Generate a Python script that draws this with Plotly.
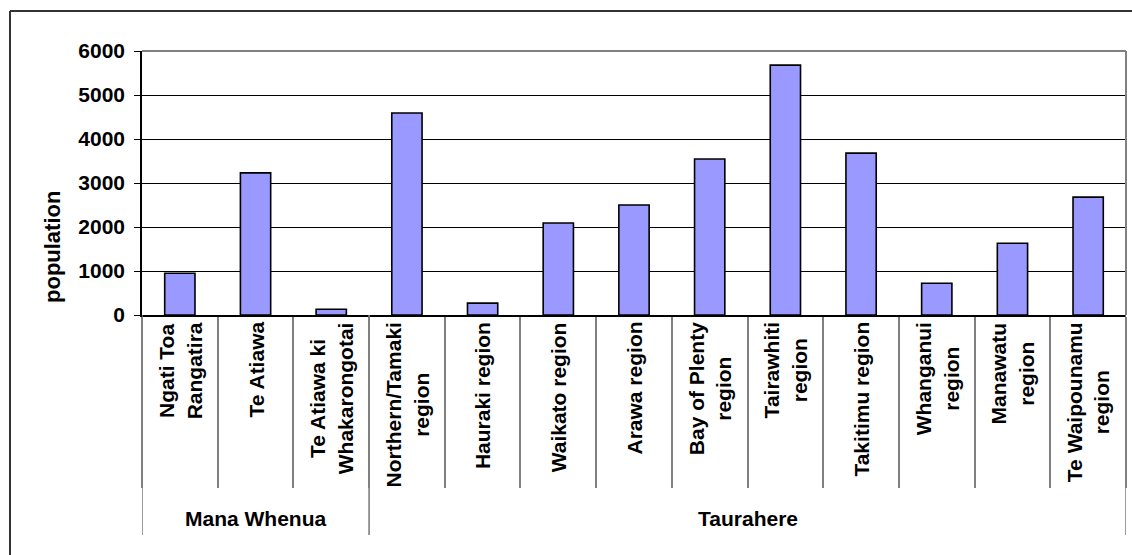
import plotly.graph_objects as go

# Population by iwi / region, grouped into Mana Whenua and Taurahere
categories = [
    "Ngati Toa Rangatira", "Te Atiawa", "Te Atiawa ki Whakarongotai",
    "Northern/Tamaki region", "Hauraki region", "Waikato region",
    "Arawa region", "Bay of Plenty region", "Tairawhiti region",
    "Takitimu region", "Whanganui region", "Manawatu region",
    "Te Waipounamu region",
]
tick_labels = [
    "Ngati Toa<br>Rangatira", "Te Atiawa", "Te Atiawa ki<br>Whakarongotai",
    "Northern/Tamaki<br>region", "Hauraki region", "Waikato region",
    "Arawa region", "Bay of Plenty<br>region", "Tairawhiti<br>region",
    "Takitimu region", "Whanganui<br>region", "Manawatu<br>region",
    "Te Waipounamu<br>region",
]
population = [950, 3230, 130, 4590, 270, 2090, 2500, 3545, 5680, 3680, 720, 1630, 2680]

groups = ["Mana Whenua", "Taurahere"]
group_spans = [(0, 2), (3, 12)]  # first and last category index of each group

y_ticks = [0, 1000, 2000, 3000, 4000, 5000, 6000]

FONT = "Arial, Liberation Sans, sans-serif"
W, H = 1132, 555
L, R, T, B = 142, 6, 51, 240
plot_w = W - L - R
plot_h = H - T - B


def px_to_paper_x(px):
    return (px - L) / plot_w


def px_to_paper_y(py):
    return (H - B - py) / plot_h


fig = go.Figure(
    go.Bar(
        x=list(range(len(categories))),
        y=population,
        marker=dict(color="#9999FF", line=dict(color="black", width=1.6)),
        hovertext=categories,
    )
)

shapes = []
annotations = []

# category labels, rotated and hanging below the axis
for i, lab in enumerate(tick_labels):
    annotations.append(dict(
        x=i, xref="x", y=px_to_paper_y(320), yref="paper",
        text=lab, textangle=-90, showarrow=False,
        xanchor="center", yanchor="top", align="center",
        font=dict(family=FONT, size=21, color="black", weight="bold"),
    ))

# group labels and group dividers
for name, (a, b) in zip(groups, group_spans):
    annotations.append(dict(
        x=(a + b) / 2, xref="x", y=px_to_paper_y(518), yref="paper",
        text=name, showarrow=False, xanchor="center", yanchor="middle",
        font=dict(family=FONT, size=21, color="black", weight="bold"),
    ))
for xb in [-0.5] + [b + 0.5 for _, b in group_spans]:
    shapes.append(dict(
        type="line", xref="x", yref="paper", x0=xb, x1=xb,
        y0=0, y1=px_to_paper_y(535),
        line=dict(color="#808080", width=1.6),
    ))

# y axis title
annotations.append(dict(
    x=px_to_paper_x(52), xref="paper", y=px_to_paper_y(247), yref="paper",
    text="population", textangle=-90, showarrow=False,
    xanchor="center", yanchor="middle",
    font=dict(family=FONT, size=22, color="black", weight="bold"),
))

# plot-area border on top and right
shapes.append(dict(type="line", xref="paper", yref="paper", x0=0, x1=1, y0=1, y1=1,
                   line=dict(color="#808080", width=2), layer="above"))
shapes.append(dict(type="line", xref="paper", yref="paper", x0=1, x1=1, y0=0, y1=1,
                   line=dict(color="#808080", width=2), layer="above"))

# outer chart frame
fx0 = px_to_paper_x(10)
fy1 = px_to_paper_y(11)
shapes.append(dict(type="line", xref="paper", yref="paper", x0=fx0, x1=px_to_paper_x(1140),
                   y0=fy1, y1=fy1, line=dict(color="#333333", width=2)))
shapes.append(dict(type="line", xref="paper", yref="paper", x0=fx0, x1=fx0,
                   y0=fy1, y1=px_to_paper_y(570), line=dict(color="#333333", width=2)))

fig.update_layout(
    template="none",
    width=W, height=H,
    margin=dict(l=L, r=R, t=T, b=B, pad=0),
    paper_bgcolor="white", plot_bgcolor="white",
    showlegend=False,
    bargap=0.6,
    shapes=shapes,
    annotations=annotations,
    xaxis=dict(
        range=[-0.5, len(categories) - 0.5],
        tickmode="array", tickvals=[i - 0.5 for i in range(len(categories) + 1)],
        showticklabels=False,
        ticks="outside", ticklen=171, tickwidth=1.6, tickcolor="#808080",
        showgrid=False, zeroline=False,
        showline=True, linecolor="black", linewidth=1.6,
        automargin=False, fixedrange=True,
    ),
    yaxis=dict(
        range=[0, 6000],
        tickmode="array", tickvals=y_ticks, ticktext=[str(v) for v in y_ticks],
        tickfont=dict(family=FONT, size=21, color="black", weight="bold"),
        ticks="outside", ticklen=6, tickwidth=1.2, tickcolor="black",
        ticklabelstandoff=5,
        showgrid=True, gridcolor="black", gridwidth=1,
        zeroline=False,
        showline=True, linecolor="black", linewidth=1.6,
        automargin=False, fixedrange=True,
    ),
)

fig.write_html("out.html")
